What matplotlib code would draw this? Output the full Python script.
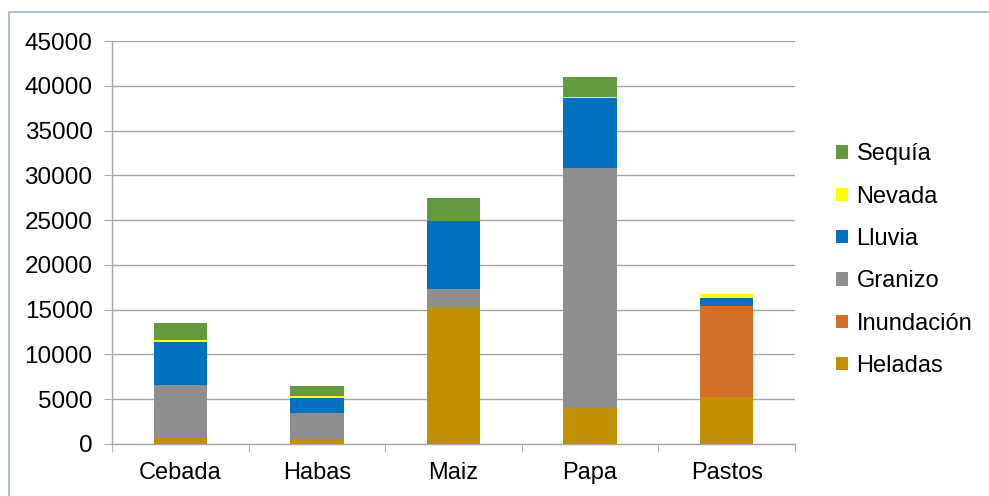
import matplotlib
matplotlib.use('Agg')
import matplotlib.pyplot as plt
from matplotlib.patches import Patch, Rectangle
import numpy as np

plt.rcParams['font.family'] = ['Liberation Sans', 'DejaVu Sans']

# ── data ──
cultivos = ['Cebada', 'Habas', 'Maiz', 'Papa', 'Pastos']
heladas    = [750,   560,  15230,  4060,  5300]
inundacion = [0,     0,    0,      0,     10150]
granizo    = [5820,  2880, 2130,   26740, 0]
lluvia     = [4770,  1750, 7540,   7840,  900]
nevada     = [230,   220,  0,      150,   450]
sequia     = [1940,  1050, 2600,   2170,  0]

series = [('Heladas', heladas, '#BF9000'),
          ('Inundación', inundacion, '#D46D2A'),
          ('Granizo', granizo, '#8E8E8E'),
          ('Lluvia', lluvia, '#0070C0'),
          ('Nevada', nevada, '#FFFF00'),
          ('Sequía', sequia, '#629B3E')]

fig = plt.figure(figsize=(9.89, 4.96), dpi=100)
ax = fig.add_axes([112/989, 1-444/496, (795-112)/989, (444-41)/496])

x = np.arange(len(cultivos))
bottom = np.zeros(len(cultivos))
for name, vals, col in series:
    ax.bar(x, vals, 0.39, bottom=bottom, color=col, label=name, zorder=3)
    bottom += np.array(vals)

ax.set_xlim(-0.5, len(cultivos) - 0.5)
ax.set_ylim(0, 45000)
ax.set_yticks(range(0, 45001, 5000))
ax.yaxis.grid(True, color='#A6A6A6', linewidth=1.0, zorder=0)
ax.set_xticks(x)
ax.set_xticklabels(cultivos)
ax.set_xticks(np.arange(-0.5, len(cultivos)), minor=True)
ax.tick_params(axis='x', which='major', length=0, pad=13, labelsize=17)
ax.tick_params(axis='x', which='minor', length=6, color='#A6A6A6', direction='out')
ax.tick_params(axis='y', length=6, color='#A6A6A6', pad=8, labelsize=17.5)
for s in ['top', 'right']:
    ax.spines[s].set_visible(False)
for s in ['left', 'bottom']:
    ax.spines[s].set_color('#A6A6A6')
    ax.spines[s].set_linewidth(1.0)

# legend, top entry = Sequía
handles = [Patch(facecolor=c, label=n) for n, _, c in series][::-1]
fig.legend(handles=handles, loc='upper left', bbox_to_anchor=(827/989, 1-134/496),
           frameon=False, fontsize=17, handlelength=0.5, handleheight=0.5,
           handletextpad=0.35, labelspacing=0.86, borderaxespad=0)

# chart-area border (light blue, cut at right/bottom)
fig.patches.append(Rectangle((9/989, -0.1), 1.2, 1-12/496 + 0.1,
                             transform=fig.transFigure, fill=False,
                             edgecolor='#8EB4E3', linewidth=1.2))

fig.savefig('out.png', dpi=100)
